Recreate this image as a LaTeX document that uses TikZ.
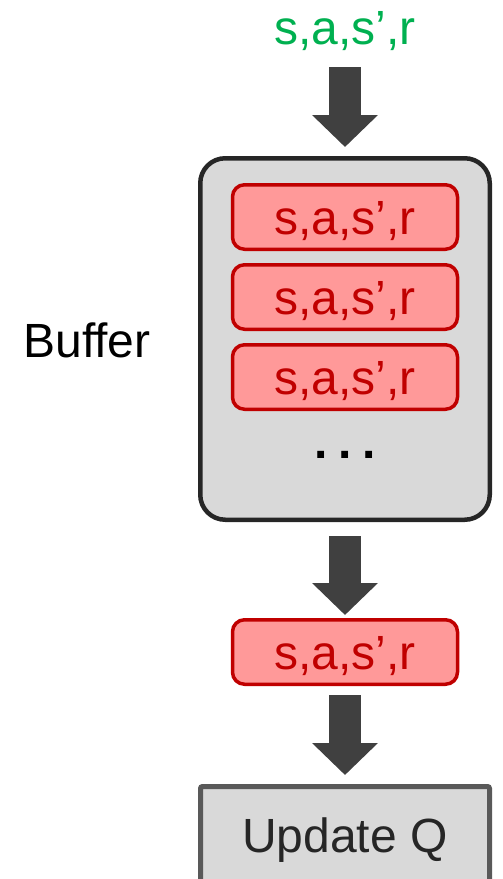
\documentclass[tikz,border=0pt]{standalone}
\usepackage{fontspec}
\setmainfont{Liberation Sans}
\usetikzlibrary{arrows.meta}
\definecolor{grn}{HTML}{00B050}
\definecolor{dred}{HTML}{C00000}
\definecolor{pink}{HTML}{FF9999}
\definecolor{lgray}{HTML}{D9D9D9}
\definecolor{bord}{HTML}{262626}
\definecolor{arr}{HTML}{404040}
\definecolor{ubord}{HTML}{595959}
\tikzset{
  big/.style={font=\fontsize{48}{58}\selectfont},
  tuple/.style={big, draw=dred, fill=pink, text=dred, line width=3.5pt,
    rounded corners=12pt, minimum width=225pt, minimum height=64.5pt,
    inner sep=0pt, text height=38pt, text depth=4pt},
  bufbox/.style={draw=bord, fill=lgray, line width=4.5pt, rounded corners=25pt,
    minimum width=289.5pt, minimum height=361.5pt},
  updbox/.style={big, draw=ubord, fill=lgray, line width=5pt, rounded corners=2pt,
    minimum width=289pt, minimum height=107pt, inner sep=0pt,
    text=bord, text height=35pt, text depth=10pt},
  fatarrow/.style={draw=arr, line width=32pt,
    -{Triangle[width=64pt,length=32pt,fill=arr]}},
}
\begin{document}
\begin{tikzpicture}[x=1pt,y=-1pt]
\useasboundingbox (0,0) rectangle (503,879);
\clip (0,0) rectangle (503,879);
\node[big, text=grn, anchor=base, inner sep=0pt] (src) at (345,44) {s,a,s’,r};
\node[bufbox] (buf) at (345,339) {};
\node[tuple] (t1) at (345,217) {s,a,s’,r};
\node[tuple] (t2) at (345,297) {s,a,s’,r};
\node[tuple] (t3) at (345,377) {s,a,s’,r};
\node[big, anchor=base, inner sep=0pt] (dots) at (345,458) {\bfseries .\hspace{10.5pt}.\hspace{10.5pt}.};
\node[big, anchor=base, inner sep=0pt] (lbl) at (87,357) {Buffer};
\node[tuple] (t4) at (345,652) {s,a,s’,r};
\node[updbox] (upd) at (345,840) {Update Q};
\draw[fatarrow] ([yshift=-17pt]src.south) -- ([yshift=9pt]buf.north);
\draw[fatarrow] ([yshift=-14pt]buf.south) -- ([yshift=3pt]t4.north);
\draw[fatarrow] ([yshift=-9pt]t4.south) -- ([yshift=9pt]upd.north);
\end{tikzpicture}
\end{document}
